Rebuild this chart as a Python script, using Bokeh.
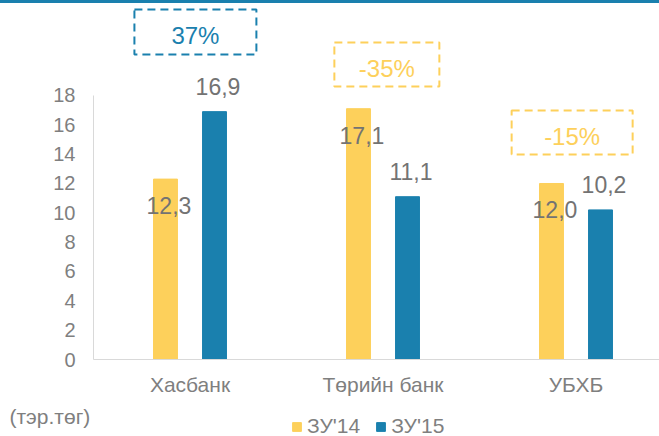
from bokeh.plotting import figure
from bokeh.models import (ColumnDataSource, Range1d, FixedTicker, Legend, LegendItem,
                          Label, Div)
from bokeh.layouts import column
from bokeh.transform import dodge
from bokeh.core.properties import value
from bokeh.embed import file_html
from bokeh.resources import INLINE

# ---- data ----
categories = ["Хасбанк", "Төрийн банк", "УБХБ"]
q3_14 = [12.3, 17.1, 12.0]
q3_15 = [16.9, 11.1, 10.2]
q3_14_labels = ["12,3", "17,1", "12,0"]
q3_15_labels = ["16,9", "11,1", "10,2"]
change_labels = ["37%", "-35%", "-15%"]
series_names = ["ЗУ'14", "ЗУ'15"]
y_ticks = [0, 2, 4, 6, 8, 10, 12, 14, 16, 18]
unit_label = "(тэр.төг)"

# ---- styles / layout ----
YELLOW = "#FDD05B"
BLUE = "#1A80AE"
GREY = "#7F7F7F"
LABEL_GREY = "#737373"
FONT = value("Liberation Sans")

W, H = 659, 436
TOP_BAR = 3
px_per_unit = 14.667     # pixels per value unit
cat_px = 193.0           # pixels per category
axis_x_px = 93           # y-axis position (px from left)
axis_y_px = 359 - TOP_BAR  # baseline position (px from figure top)

bar_off = 0.127
bar_w = 0.124
lab_dx = 0.018
lab_dy_a = -1.8
lab_dy_b = 1.7

# change boxes (offset from category, centre y, width, height, colour)
box_dx = [0.028, 0.02, -0.02]
box_y = [22.33, 20.11, 15.48]
box_w = [0.632, 0.544, 0.627]
box_h = [3.07, 3.0, 3.0]
box_col = [BLUE, YELLOW, YELLOW]

xs = list(range(len(categories)))

src = ColumnDataSource(dict(
    x=xs, a=q3_14, b=q3_15,
    a_lab=q3_14_labels, b_lab=q3_15_labels,
    a_lab_y=[v + lab_dy_a for v in q3_14],
    b_lab_y=[v + lab_dy_b for v in q3_15],
))

box_src = ColumnDataSource(dict(
    x=[x + d for x, d in zip(xs, box_dx)],
    y=box_y, w=box_w, h=box_h, c=box_col,
    ty=[y - 0.26 for y in box_y],
    t=change_labels,
))

fig_h = H - TOP_BAR
x_start = -0.5 - axis_x_px / cat_px
x_end = x_start + W / cat_px
y_end = axis_y_px / px_per_unit
y_start = -(fig_h - axis_y_px) / px_per_unit

p = figure(width=W, height=fig_h, output_backend="svg", toolbar_location=None,
           x_range=Range1d(x_start, x_end), y_range=Range1d(y_start, y_end),
           min_border=0, min_border_left=0, min_border_right=0,
           min_border_top=0, min_border_bottom=0)
p.outline_line_color = None
p.xgrid.grid_line_color = None
p.ygrid.grid_line_color = None
p.background_fill_color = "white"
p.border_fill_color = "white"

r1 = p.vbar(x=dodge("x", -bar_off), top="a", width=bar_w, source=src,
            fill_color=YELLOW, line_color=YELLOW)
r2 = p.vbar(x=dodge("x", bar_off), top="b", width=bar_w, source=src,
            fill_color=BLUE, line_color=BLUE)

p.text(x=dodge("x", -bar_off + lab_dx), y="a_lab_y", text="a_lab", source=src,
       text_align="center", text_baseline="middle", text_font=FONT,
       text_font_size="23px", text_color=LABEL_GREY)
p.text(x=dodge("x", bar_off + lab_dx), y="b_lab_y", text="b_lab", source=src,
       text_align="center", text_baseline="middle", text_font=FONT,
       text_font_size="23px", text_color=LABEL_GREY)

p.rect(x="x", y="y", width="w", height="h", source=box_src, fill_color=None,
       line_color="c", line_width=2, line_dash="8 5")
p.text(x="x", y="ty", text="t", source=box_src, text_align="center",
       text_baseline="middle", text_font=FONT, text_font_size="24px",
       text_color="c")

# axes (drawn at fixed positions inside the full-canvas frame)
yax = p.yaxis[0]
yax.fixed_location = -0.5
yax.bounds = (0, 18)
yax.ticker = FixedTicker(ticks=y_ticks)
yax.axis_line_color = "#D9D9D9"
yax.axis_line_width = 1
yax.major_tick_line_color = None
yax.minor_tick_line_color = None
yax.major_tick_out = 0
yax.major_tick_in = 0
yax.major_label_standoff = 18
yax.major_label_text_font = "Liberation Sans"
yax.major_label_text_font_size = "20px"
yax.major_label_text_color = GREY

xax = p.xaxis[0]
xax.fixed_location = 0
xax.bounds = (-0.5, x_end)
xax.ticker = FixedTicker(ticks=xs)
xax.major_label_overrides = {x: c for x, c in zip(xs, categories)}
xax.axis_line_color = "#D9D9D9"
xax.major_tick_line_color = None
xax.minor_tick_line_color = None
xax.major_tick_out = 0
xax.major_tick_in = 0
xax.major_label_standoff = 13
xax.major_label_text_font = "Liberation Sans"
xax.major_label_text_font_size = "21px"
xax.major_label_text_color = GREY

p.add_layout(Label(x=9, y=20, x_units="screen", y_units="screen",
                   text=unit_label, text_font="Liberation Sans",
                   text_font_size="21px", text_color=GREY,
                   text_baseline="middle"))

legend = Legend(items=[LegendItem(label=series_names[0], renderers=[r1]),
                       LegendItem(label=series_names[1], renderers=[r2])],
                location=(291, -2), orientation="horizontal",
                glyph_width=11, glyph_height=11, label_standoff=5, spacing=15,
                padding=0, margin=0, border_line_color=None,
                background_fill_alpha=0, label_text_font="Liberation Sans",
                label_text_font_size="21px", label_text_color=GREY)
p.add_layout(legend)

top_bar = Div(text="", width=W, height=TOP_BAR, margin=(0, 0, 0, 0),
              styles={"background-color": BLUE})

layout = column(top_bar, p, spacing=0)

open("out.html", "w").write(file_html(layout, INLINE))
